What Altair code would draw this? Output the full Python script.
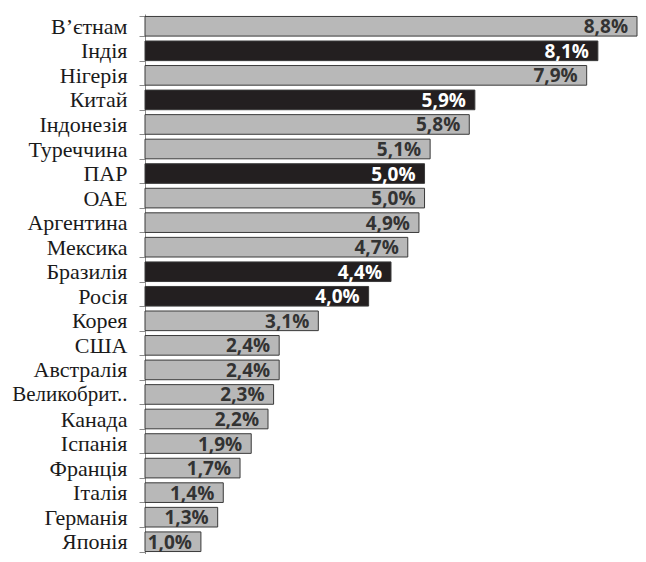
import altair as alt
import pandas as pd

countries = ["В’єтнам", "Індія", "Нігерія", "Китай", "Індонезія", "Туреччина", "ПАР", "ОАЕ",
             "Аргентина", "Мексика", "Бразилія", "Росія", "Корея", "США", "Австралія",
             "Великобрит..", "Канада", "Іспанія", "Франція", "Італія", "Германія", "Японія"]
values = [8.8, 8.1, 7.9, 5.9, 5.8, 5.1, 5.0, 5.0, 4.9, 4.7, 4.4, 4.0, 3.1, 2.4, 2.4,
          2.3, 2.2, 1.9, 1.7, 1.4, 1.3, 1.0]
brics = ["Індія", "Китай", "ПАР", "Бразилія", "Росія"]
labels = [f"{v:.1f}%".replace(".", ",") for v in values]

df = pd.DataFrame({
    "country": countries,
    "value": values,
    "label": labels,
    "group": ["brics" if c in brics else "other" for c in countries],
})

y_enc = alt.Y("country:N", sort=countries, title=None,
              scale=alt.Scale(paddingInner=0.2, paddingOuter=0.1),
              axis=alt.Axis(domainColor="#8c8c8c", tickColor="#8c8c8c", tickSize=6,
                            tickBand="extent", labelFont="Liberation Serif",
                            labelFontSize=alt.condition("datum.label == 'Великобрит..'",
                                                        alt.value(21), alt.value(22)),
                            labelColor="#1a1a1a", labelPadding=12,
                            labelLimit=200))
x_enc = alt.X("value:Q", title=None, scale=alt.Scale(domain=[0, 8.8], nice=False),
              axis=None)

bars = alt.Chart(df).mark_bar(stroke="#3a3a3a", strokeWidth=1).encode(
    y=y_enc, x=x_enc,
    color=alt.Color("group:N", legend=None,
                    scale=alt.Scale(domain=["brics", "other"], range=["#231f20", "#b8b8b8"])),
)

text = alt.Chart(df).mark_text(align="right", baseline="middle", dx=-9, dy=1,
                               font="Open Sans", fontWeight="bold", fontSize=19).encode(
    y=alt.Y("country:N", sort=countries),
    x=alt.X("value:Q"),
    text="label:N",
    color=alt.Color("group:N", legend=None,
                    scale=alt.Scale(domain=["brics", "other"], range=["#ffffff", "#333333"])),
)

chart = alt.layer(bars, text).resolve_scale(color="independent").properties(
    width=492, height=540,
    padding={"left": 137, "top": 6, "right": 1, "bottom": 0},
    autosize=alt.AutoSizeParams(type="none"),
).configure_view(stroke=None)

chart.save("out.html", embed_options={"renderer": "svg", "actions": False})
